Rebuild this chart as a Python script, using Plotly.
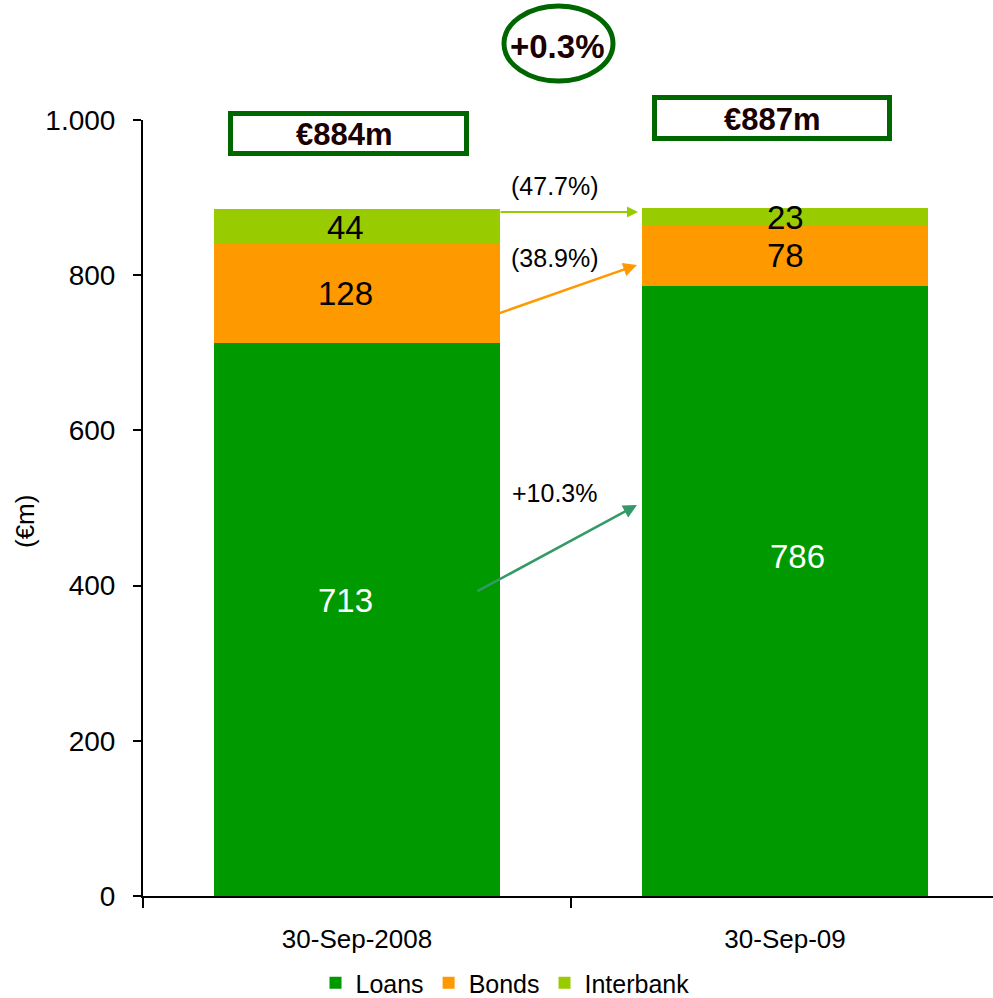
import plotly.graph_objects as go

# ---- data ----
categories = ["30-Sep-2008", "30-Sep-09"]
loans = [713, 786]
bonds = [128, 78]
interbank = [44, 23]
total_labels = ["€884m", "€887m"]
total_change = "+0.3%"
interbank_change = "(47.7%)"
bonds_change = "(38.9%)"
loans_change = "+10.3%"

# ---- style ----
C_LOANS = "#009900"
C_BONDS = "#FF9900"
C_INTER = "#99CC00"
C_DARK = "#006600"
C_ARROW_LOANS = "#339966"
FONT = "Liberation Sans, Arial, sans-serif"

W, H = 993, 998
ML, MR, MT, MB = 143, 0, 120, 102
PW, PH = W - ML - MR, H - MT - MB
CAT_PX = 428.0  # pixels per category

def px2x(px):
    return -0.5 + (px - ML) / CAT_PX

def py2y(py):
    return (H - MB - py) / PH * 1000.0

def ppx(px):
    return (px - ML) / PW

def ppy(py):
    return (H - MB - py) / PH

fig = go.Figure()
for name, vals, col in [("Loans", loans, C_LOANS), ("Bonds", bonds, C_BONDS), ("Interbank", interbank, C_INTER)]:
    fig.add_trace(go.Bar(x=categories, y=vals, name=name, marker=dict(color=col, line=dict(width=0)),
                         hoverinfo="x+y+name"))

annotations = []
# segment labels
xshift = [-12, 0]
loan_label_y = [381, 438]
loan_xshift = [-12, 12]
for i in range(2):
    annotations.append(dict(x=i, y=loan_label_y[i], text=str(loans[i]), showarrow=False, xshift=loan_xshift[i],
                            font=dict(size=33, color="white", family=FONT)))
    annotations.append(dict(x=i, y=loans[i] + bonds[i] / 2, text=str(bonds[i]), showarrow=False, xshift=xshift[i],
                            font=dict(size=33, color="black", family=FONT)))
    annotations.append(dict(x=i, y=loans[i] + bonds[i] + interbank[i] / 2 - 1, text=str(interbank[i]),
                            showarrow=False, xshift=xshift[i],
                            font=dict(size=33, color="black", family=FONT)))

# arrows (tail -> head)
arrows = [
    ((499, 212), (638, 212), C_INTER, 2),
    ((480, 320), (637, 265), C_BONDS, 2.5),
    ((476, 592), (637, 505), C_ARROW_LOANS, 2.5),
]
for (t, h, col, w) in arrows:
    annotations.append(dict(x=px2x(h[0]), y=py2y(h[1]), ax=px2x(t[0]), ay=py2y(t[1]),
                            xref="x", yref="y", axref="x", ayref="y", text="", showarrow=True,
                            arrowhead=2, arrowsize=1.1, arrowwidth=w, arrowcolor=col,
                            standoff=0, startstandoff=0))

# change labels
for txt, py in [(interbank_change, 186), (bonds_change, 258), (loans_change, 493)]:
    annotations.append(dict(x=px2x(555), y=py2y(py), text=txt, showarrow=False,
                            xanchor="center", yanchor="middle",
                            font=dict(size=25, color="black", family=FONT)))

# total boxes text
for txt, cx, cy, sz in [(total_labels[0], 344, 134, 31), (total_labels[1], 772, 119, 31), (total_change, 557, 47, 33)]:
    annotations.append(dict(xref="paper", yref="paper", x=ppx(cx), y=ppy(cy), text="<b>" + txt + "</b>",
                            xanchor="center", yanchor="middle", showarrow=False,
                            font=dict(size=sz, color="#1a0000", family=FONT)))

# y axis title
annotations.append(dict(xref="paper", yref="paper", x=ppx(25), y=ppy(522), text="(€m)", textangle=-90,
                        xanchor="center", yanchor="middle",
                        showarrow=False, font=dict(size=26, color="black", family=FONT)))

shapes = [
    dict(type="rect", xref="paper", yref="paper", x0=ppx(230.5), x1=ppx(466.5), y0=ppy(153.5), y1=ppy(113.5),
         line=dict(color=C_DARK, width=5), fillcolor="rgba(0,0,0,0)"),
    dict(type="rect", xref="paper", yref="paper", x0=ppx(654.5), x1=ppx(889.5), y0=ppy(138.5), y1=ppy(97.5),
         line=dict(color=C_DARK, width=5), fillcolor="rgba(0,0,0,0)"),
    dict(type="circle", xref="paper", yref="paper", x0=ppx(504), x1=ppx(613), y0=ppy(81), y1=ppy(6),
         line=dict(color=C_DARK, width=5), fillcolor="rgba(0,0,0,0)"),
]

fig.update_layout(
    width=W, height=H,
    margin=dict(l=ML, r=MR, t=MT, b=MB, autoexpand=False),
    barmode="stack", bargap=0.332,
    paper_bgcolor="white", plot_bgcolor="white",
    separators=",.",
    font=dict(family=FONT, color="black"),
    showlegend=True,
    legend=dict(orientation="h", x=ppx(505), xanchor="center", y=ppy(983), yanchor="middle",
                font=dict(size=25, color="black", family=FONT), traceorder="normal",
                itemwidth=30, tracegroupgap=0, bgcolor="rgba(0,0,0,0)"),
    annotations=annotations,
    shapes=shapes,
    xaxis=dict(type="category", range=[-0.5, -0.5 + PW / CAT_PX], showline=True, linecolor="black", linewidth=2,
               ticks="outside", tickson="boundaries", ticklen=10, tickwidth=2, tickcolor="black",
               showgrid=False, zeroline=False, tickfont=dict(size=26, color="black", family=FONT),
               ticklabelstandoff=19),
    yaxis=dict(range=[0, 1000], tickvals=[0, 200, 400, 600, 800, 1000], tickformat=",d",
               showline=True, linecolor="black", linewidth=2, ticks="outside", ticklen=8, tickwidth=2,
               tickcolor="black", showgrid=False, zeroline=False,
               tickfont=dict(size=28, color="black", family=FONT), ticklabelstandoff=12),
)

fig.write_html("out.html")
